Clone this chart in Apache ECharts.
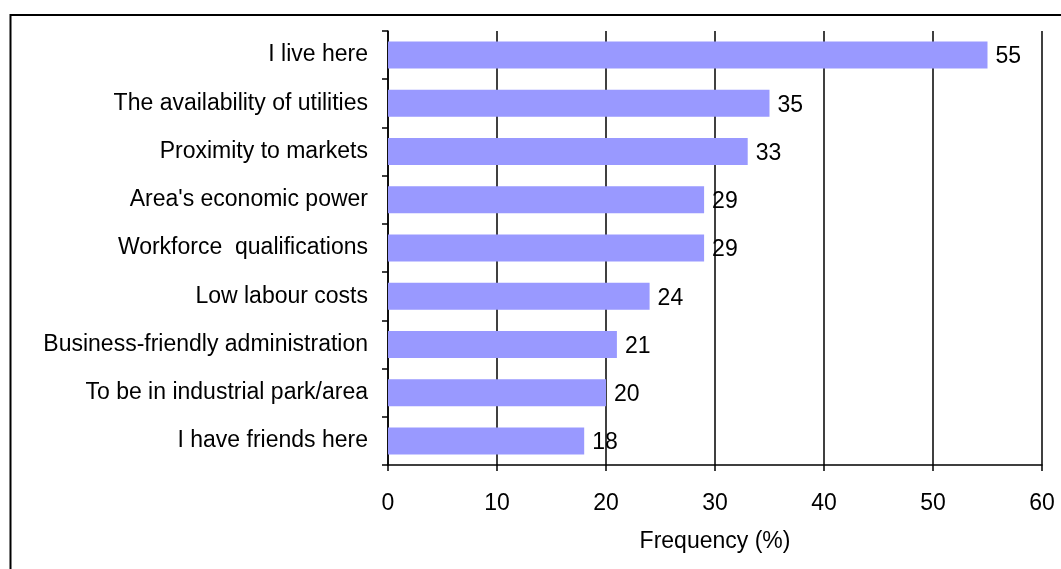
<!DOCTYPE html>
<html>
<head>
<meta charset="utf-8">
<script src="https://cdn.jsdelivr.net/npm/echarts@6/dist/echarts.min.js"></script>
<style>html,body{margin:0;padding:0;background:#fff}#c{width:1061px;height:569px}</style>
</head>
<body>
<div id="c"></div>
<script>
const categories = ["I live here", "The availability of utilities", "Proximity to markets", "Area's economic power", "Workforce  qualifications", "Low labour costs", "Business-friendly administration", "To be in industrial park/area", "I have friends here"];
const values = [55, 35, 33, 29, 29, 24, 21, 20, 18];
const xTicks = [0, 10, 20, 30, 40, 50, 60];
const axisTitle = "Frequency (%)";

const font = "'Liberation Sans', Arial, sans-serif";
const fs = 23;
const chart = echarts.init(document.getElementById('c'), null, {renderer: 'canvas'});
chart.setOption({
  animation: false,
  backgroundColor: '#fff',
  graphic: [{
    type: 'rect', z: 100,
    shape: {x: 10.5, y: 15, width: 1100, height: 600},
    style: {fill: 'none', stroke: '#000', lineWidth: 2}
  }],
  grid: {left: 388, right: 19, top: 31, bottom: 104, containLabel: false},
  xAxis: {
    type: 'value', min: xTicks[0], max: xTicks[xTicks.length - 1], interval: 10,
    name: axisTitle, nameLocation: 'middle', nameGap: 65,
    nameTextStyle: {fontFamily: font, fontSize: fs, color: '#000'},
    axisLine: {show: true, lineStyle: {color: '#000', width: 1.5}},
    axisTick: {show: true, inside: false, length: 6, lineStyle: {color: '#000', width: 1.5}},
    axisLabel: {margin: 27, fontFamily: font, fontSize: fs, color: '#000'},
    splitLine: {show: true, lineStyle: {color: '#000', width: 1.5}}
  },
  yAxis: {
    type: 'category', data: categories, inverse: true,
    axisLine: {show: true, lineStyle: {color: '#000', width: 1.5}},
    axisTick: {show: true, inside: false, length: 6, lineStyle: {color: '#000', width: 1.5}},
    axisLabel: {margin: 20, padding: [4, 0, 0, 0], fontFamily: font, fontSize: fs, color: '#000'},
    splitLine: {show: false}
  },
  series: [{
    type: 'bar', data: values, barWidth: '56%',
    itemStyle: {color: '#9999FF'},
    label: {show: true, position: 'right', distance: 8, offset: [0, 2], fontFamily: font, fontSize: fs, color: '#000'}
  }]
});
</script>
</body>
</html>
